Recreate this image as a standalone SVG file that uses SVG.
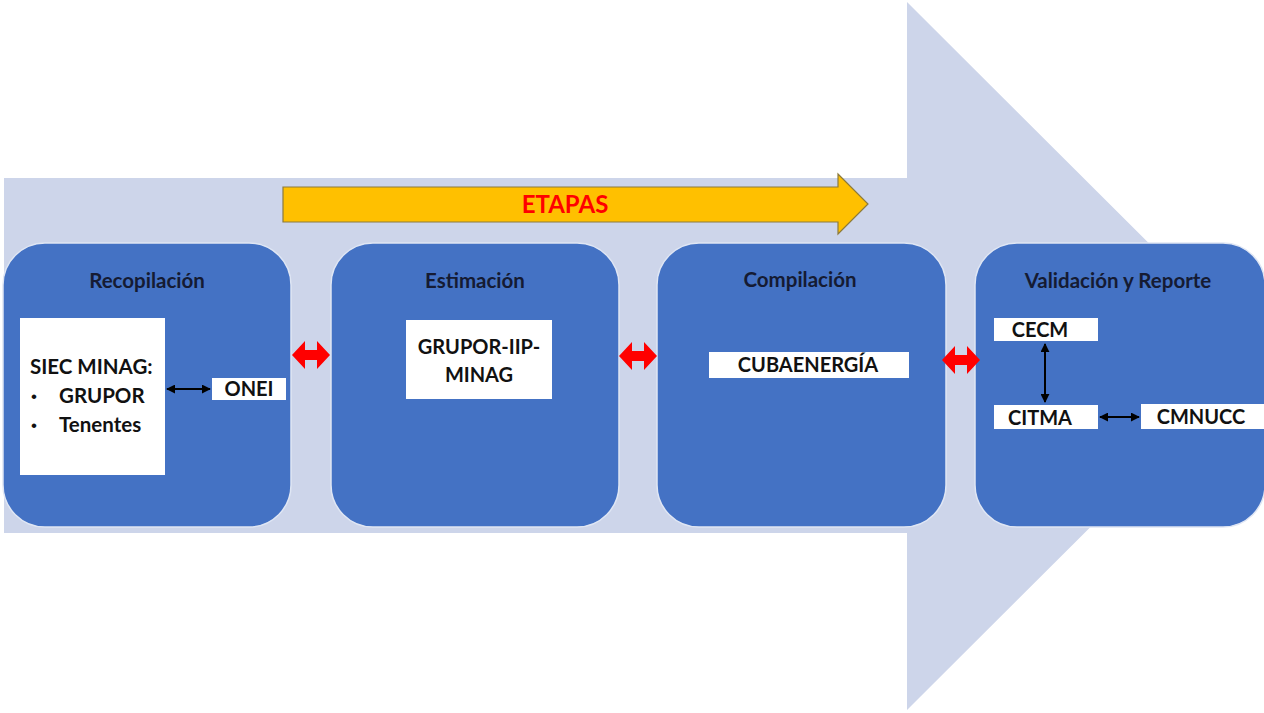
<svg xmlns="http://www.w3.org/2000/svg" width="1264" height="713" viewBox="0 0 1264 713">
<style>
.stage{fill:#4472C4;stroke:#dfe6f4;stroke-width:1.5}
.wbox{fill:#ffffff}
.title{font-family:Lato,"Liberation Sans",sans-serif;font-weight:bold;font-size:20.5px;fill:#151b33;text-anchor:middle}
.lbl{font-family:Lato,"Liberation Sans",sans-serif;font-weight:bold;font-size:20px;fill:#111111;text-anchor:middle}
.txt{font-family:Lato,"Liberation Sans",sans-serif;font-weight:bold;font-size:20.5px;fill:#111111}
.bul{font-family:"Liberation Sans",sans-serif;font-size:17px;fill:#111111}
.red{fill:#FF0000}
.conn{stroke:#000000;stroke-width:2;fill:none;marker-start:url(#ah);marker-end:url(#ah)}
</style>
<defs>
<marker id="ah" viewBox="0 0 10 10" refX="9" refY="5" markerWidth="4.5" markerHeight="4.5" orient="auto-start-reverse"><path d="M0,0 L10,5 L0,10 z" fill="#000"/></marker>
<path id="dbl" d="M-19,0 L-6,-14 L-6,-5 L6,-5 L6,-14 L19,0 L6,14 L6,5 L-6,5 L-6,14 z"/>
</defs>
<rect width="1264" height="713" fill="#ffffff"/>
<g id="big-arrow"><polygon points="4,178 907,178 907,2 1262,356 907,710 907,533 4,533" fill="#CDD5EA"/></g>
<g id="etapas"><polygon points="283,187 838,187 838,174 868,204 838,234 838,222 283,222" fill="#FFC000" stroke="#8c7a3c" stroke-width="1.2"/><text x="565" y="213" font-family="Lato,'Liberation Sans',sans-serif" font-weight="bold" font-size="24" fill="#FF0000" text-anchor="middle">ETAPAS</text></g>
<g id="recopilacion"><rect class="stage" x="3" y="243" width="288" height="284" rx="42"/><text class="title" x="147" y="288">Recopilación</text>
<rect class="wbox" x="20" y="318" width="145" height="157"/>
<text class="txt" x="30" y="374">SIEC MINAG:</text>
<text class="bul" x="31" y="402">•</text><text class="txt" x="59" y="403">GRUPOR</text>
<text class="bul" x="31" y="431">•</text><text class="txt" x="59" y="432">Tenentes</text>
</g>
<g id="onei"><rect class="wbox" x="212" y="378" width="74" height="22"/><text class="lbl" x="249" y="396">ONEI</text></g>
<g id="estimacion"><rect class="stage" x="331" y="243" width="288" height="284" rx="42"/><text class="title" x="475" y="288">Estimación</text>
<rect class="wbox" x="406" y="320" width="146" height="79"/><text class="lbl" x="479" y="354">GRUPOR-IIP-</text><text class="lbl" x="479" y="382">MINAG</text></g>
<g id="compilacion"><rect class="stage" x="657" y="243" width="289" height="284" rx="42"/><text class="title" x="800" y="287">Compilación</text>
<rect class="wbox" x="709" y="352" width="200" height="26"/><text class="lbl" x="808" y="372">CUBAENERGÍA</text></g>
<g id="validacion"><rect class="stage" x="975" y="243" width="290" height="284" rx="42"/><text class="title" x="1118" y="288">Validación y Reporte</text></g>
<g id="cecm"><rect class="wbox" x="994" y="318" width="104" height="23"/><text class="lbl" x="1040" y="337">CECM</text></g>
<g id="citma"><rect class="wbox" x="994" y="405" width="104" height="24"/><text class="lbl" x="1040" y="425">CITMA</text></g>
<g id="cmnucc"><rect class="wbox" x="1141" y="404" width="123" height="25"/><text class="lbl" x="1201" y="424">CMNUCC</text></g>
<g id="connectors">
<line class="conn" x1="167" y1="389" x2="210" y2="389"/>
<line class="conn" x1="1045" y1="344" x2="1045" y2="402"/>
<line class="conn" x1="1100" y1="417" x2="1139" y2="417"/>
<use href="#dbl" class="red" x="311" y="355"/>
<use href="#dbl" class="red" x="638" y="356"/>
<use href="#dbl" class="red" x="961" y="360"/>
</g>
</svg>
